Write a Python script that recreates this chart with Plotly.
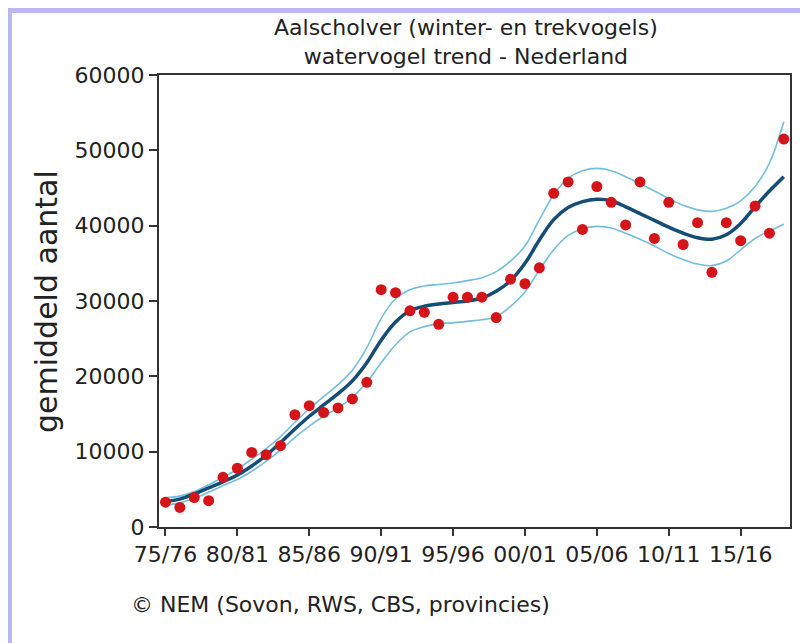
import plotly.graph_objects as go

years = list(range(1975, 2019))
counts = [3300, 2600, 3900, 3500, 6600, 7800, 9900, 9600, 10800, 14900,
          16100, 15200, 15800, 17000, 19200, 31500, 31100, 28700, 28500, 26900,
          30500, 30500, 30500, 27800, 32900, 32300, 34400, 44300, 45800, 39500,
          45200, 43100, 40100, 45800, 38300, 43100, 37500, 40400, 33800, 40400,
          38000, 42600, 39000, 51500]
trend = [3400, 3700, 4400, 5200, 6000, 6900, 8100, 9500, 11200, 13000,
         14700, 16200, 17700, 19400, 21800, 24800, 27200, 28700, 29300, 29600,
         29800, 30000, 30400, 31300, 32700, 35000, 38100, 40800, 42400, 43200,
         43500, 43300, 42500, 41600, 40700, 39800, 39000, 38400, 38200, 38800,
         40300, 42500, 44600, 46500]
upper = [3900, 4100, 4700, 5600, 6600, 7700, 9000, 10400, 12000, 13900,
         15700, 17300, 18900, 20800, 23800, 27700, 30300, 31500, 32000, 32200,
         32400, 32700, 33100, 33900, 35300, 37300, 40800, 44100, 46300, 47300,
         47600, 47300, 46500, 45600, 44600, 43600, 42700, 42100, 41900, 42300,
         43300, 45200, 48300, 53800]
lower = [2900, 3200, 3800, 4600, 5500, 6300, 7400, 8700, 10200, 11900,
         13400, 14700, 15800, 17200, 19200, 21800, 24200, 25900, 26600, 27000,
         27100, 27300, 27500, 27900, 29300, 31200, 34100, 36800, 38700, 39600,
         39900, 39700, 39000, 38200, 37300, 36300, 35500, 34900, 34700, 35300,
         36800, 38300, 39300, 40200]
tick_years = [1975, 1980, 1985, 1990, 1995, 2000, 2005, 2010, 2015]
tick_labels = ["75/76", "80/81", "85/86", "90/91", "95/96", "00/01", "05/06", "10/11", "15/16"]
y_ticks = [0, 10000, 20000, 30000, 40000, 50000, 60000]
y_tick_labels = ["0", "10000", "20000", "30000", "40000", "50000", "60000"]

title_text = "Aalscholver (winter- en trekvogels)<br>watervogel trend - Nederland"
y_title = "gemiddeld aantal"
source_text = "© NEM (Sovon, RWS, CBS, provincies)"

FONT = "DejaVu Sans, Verdana, sans-serif"
TXT = "#222222"

fig = go.Figure()
for band in (upper, lower):
    fig.add_trace(go.Scatter(x=years, y=band, mode="lines",
                             line=dict(color="#74bedd", width=1.6, shape="spline", smoothing=1.0),
                             hoverinfo="skip", showlegend=False))
fig.add_trace(go.Scatter(x=years, y=trend, mode="lines",
                         line=dict(color="#144d77", width=3.5, shape="spline", smoothing=1.0),
                         showlegend=False))
fig.add_trace(go.Scatter(x=years, y=counts, mode="markers",
                         marker=dict(color="#d41418", size=11),
                         showlegend=False))

# page offset of the figure inside the browser (body margin)
OFF = 8
W, H = 808 - OFF, 643 - OFF
L, R, T, B = 159 - OFF, 18, 75 - OFF, 116
pw, ph = W - L - R, H - T - B

def px(page_x):
    return (page_x - OFF - L) / pw

def py(page_y):
    return (H - B - (page_y - OFF)) / ph

shapes = [
    dict(type="rect", xref="paper", yref="paper", x0=px(8), x1=px(12), y0=py(643), y1=py(8),
         fillcolor="#b9b8f2", line=dict(width=0), layer="below"),
    dict(type="rect", xref="paper", yref="paper", x0=px(8), x1=px(808), y0=py(13), y1=py(8),
         fillcolor="#b9b8f2", line=dict(width=0), layer="below"),
]

fig.update_layout(
    width=W, height=H,
    margin=dict(l=L, r=R, t=T, b=B),
    paper_bgcolor="white", plot_bgcolor="white",
    font=dict(family=FONT, color=TXT),
    annotations=[
        dict(text=title_text, xref="paper", yref="paper", x=px(466), y=py(42),
             xanchor="center", yanchor="middle", showarrow=False,
             font=dict(family=FONT, size=22, color=TXT)),
        dict(text=y_title, xref="paper", yref="paper", x=px(46), y=py(302),
             xanchor="center", yanchor="middle", showarrow=False, textangle=-90,
             font=dict(family=FONT, size=30, color=TXT)),
        dict(text=source_text, xref="paper", yref="paper", x=px(129), y=py(604),
             xanchor="left", yanchor="middle", showarrow=False,
             font=dict(family=FONT, size=22, color=TXT)),
    ],
    xaxis=dict(range=[1974.55, 2018.43], tickvals=tick_years, ticktext=tick_labels,
               showgrid=False, zeroline=False, showline=True, mirror=True,
               linecolor="#333333", linewidth=2, ticks="outside", ticklen=7,
               tickwidth=2, tickcolor="#333333",
               tickfont=dict(family=FONT, size=22, color=TXT)),
    yaxis=dict(range=[0, 60000], tickvals=y_ticks, ticktext=y_tick_labels,
               showgrid=False, zeroline=False, showline=True, mirror=True,
               linecolor="#333333", linewidth=2, ticks="outside", ticklen=8,
               tickwidth=2, tickcolor="#333333",
               tickfont=dict(family=FONT, size=22, color=TXT)),
    shapes=shapes,
)

fig.write_html("out.html")
